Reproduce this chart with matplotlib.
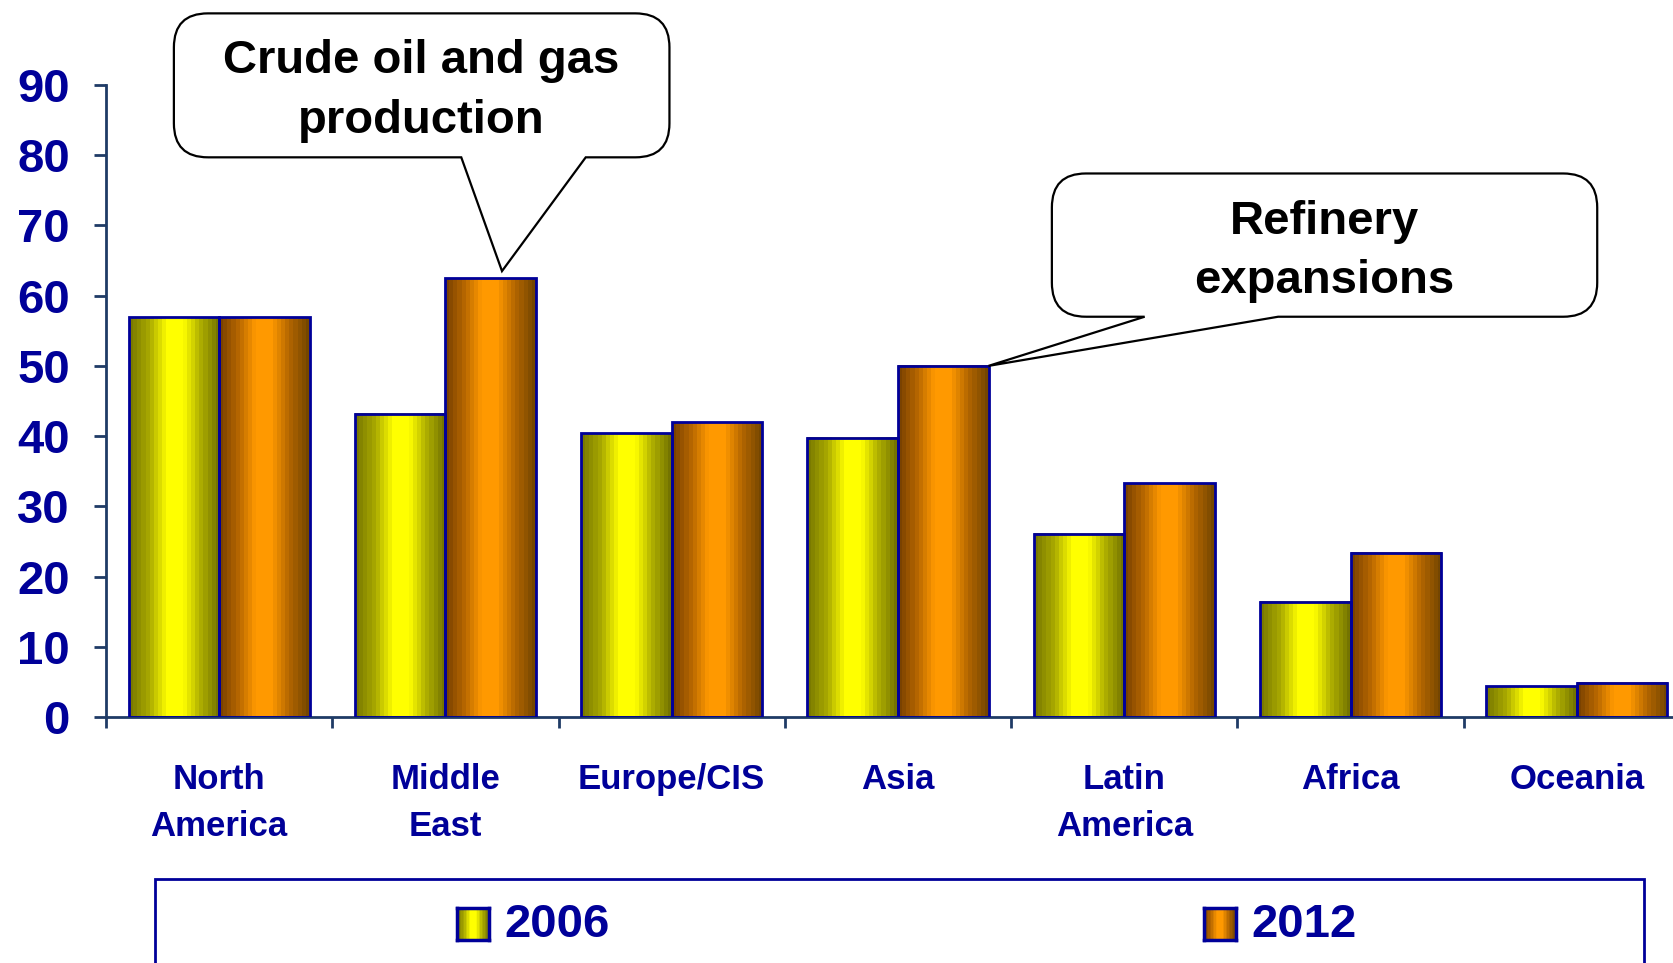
import numpy as np
import matplotlib
matplotlib.use("Agg")
import matplotlib.pyplot as plt
from matplotlib.colors import LinearSegmentedColormap
from matplotlib.path import Path
from matplotlib.patches import PathPatch, Rectangle

regions = ["North\nAmerica", "Middle\nEast", "Europe/CIS", "Asia", "Latin\nAmerica", "Africa", "Oceania"]
v2006 = [56.9, 43.2, 40.4, 39.8, 26.1, 16.4, 4.4]
v2012 = [56.9, 62.5, 42.0, 50.0, 33.3, 23.4, 4.9]
years = ["2006", "2012"]

navy = "#000099"
axcol = "#1f3b66"
plt.rcParams['font.family'] = ['Liberation Sans', 'DejaVu Sans']
plt.rcParams['font.weight'] = 'bold'

cm_y = LinearSegmentedColormap.from_list("y", [(0, "#7a7a00"), (0.2, "#a8a800"), (0.42, "#ffff00"),
                                               (0.6, "#ffff00"), (0.8, "#b0b000"), (1, "#747400")])
cm_o = LinearSegmentedColormap.from_list("o", [(0, "#7a4200"), (0.2, "#b86800"), (0.4, "#ff9900"),
                                               (0.58, "#ff9900"), (0.8, "#b06400"), (1, "#744600")])
grad = np.linspace(0, 1, 22).reshape(1, -1)

fig = plt.figure(figsize=(16.74, 9.63), dpi=100)
ax = fig.add_axes([106/1674, 1-717/963, 1584/1674, 632/963])

x = np.arange(len(regions))
w = 0.4
b1 = ax.bar(x - w/2, v2006, w, facecolor="none", edgecolor=navy, lw=2, zorder=3)
b2 = ax.bar(x + w/2, v2012, w, facecolor="none", edgecolor=navy, lw=2, zorder=3)
for bars, cm in ((b1, cm_y), (b2, cm_o)):
    for p in bars:
        x0, y0 = p.get_x(), p.get_y()
        ax.imshow(grad, cmap=cm, extent=[x0, x0 + p.get_width(), y0, y0 + p.get_height()],
                  aspect="auto", interpolation="nearest", zorder=2)

ax.set_xlim(-0.5, 6.5)
ax.set_ylim(0, 90)
ax.set_yticks(range(0, 91, 10))
ax.set_xticks(x)
ax.set_xticklabels(regions, linespacing=1.55)
ax.set_xticks(np.arange(-0.5, 7, 1), minor=True)
for s in ("top", "right"):
    ax.spines[s].set_visible(False)
ax.spines["left"].set_color(axcol)
ax.spines["bottom"].set_color(axcol)
ax.spines["left"].set_linewidth(2)
ax.spines["bottom"].set_linewidth(2)
ax.tick_params(axis="y", direction="out", length=9, width=2, color=axcol, pad=17,
               labelsize=34, labelcolor=navy)
ax.tick_params(axis="x", which="major", length=0, pad=33, labelsize=25, labelcolor=navy)
ax.tick_params(axis="x", which="minor", length=8, width=2, color=axcol)


def bubble(box, tail_a, tail_b, tip, text, dy):
    xa, xb, ya, yb = box
    rx = 34 / (ax.bbox.width / 7)
    ry = 34 / (ax.bbox.height / 90)
    verts = [(xa + rx, ya), (tail_a, ya), tip, (tail_b, ya), (xb - rx, ya),
             (xb, ya), (xb, ya + ry), (xb, yb - ry), (xb, yb), (xb - rx, yb),
             (xa + rx, yb), (xa, yb), (xa, yb - ry), (xa, ya + ry), (xa, ya), (xa + rx, ya)]
    codes = [Path.MOVETO, Path.LINETO, Path.LINETO, Path.LINETO, Path.LINETO,
             Path.CURVE3, Path.CURVE3, Path.LINETO, Path.CURVE3, Path.CURVE3,
             Path.LINETO, Path.CURVE3, Path.CURVE3, Path.LINETO, Path.CURVE3, Path.CURVE3]
    ax.add_patch(PathPatch(Path(verts, codes), facecolor="white", edgecolor="black",
                           lw=1.6, clip_on=False, zorder=5))
    ax.text((xa + xb) / 2, (ya + yb) / 2 - dy, text, ha="center", va="center", fontsize=34,
            color="black", linespacing=1.45, zorder=6)


bubble((-0.2, 1.99, 79.7, 100.2), 1.07, 1.62, (x[1] + w/2 + 0.05, v2012[1] + 1),
       "Crude oil and gas\nproduction", 0.8)
bubble((3.68, 6.09, 57.0, 77.4), 4.09, 4.68, (x[3] + w, v2012[3]),
       "Refinery\nexpansions", 0.9)

# legend
fig.patches.append(Rectangle((155/1674, -0.01), (1644-155)/1674, 0.01 + 1-879/963,
                             transform=fig.transFigure, facecolor="none", edgecolor=navy, lw=2))
for xs, xt, cm, lab in ((457, 504, cm_y, years[0]), (1204, 1251, cm_o, years[1])):
    sw = fig.add_axes([xs/1674, 1-940/963, 32/1674, 32/963])
    sw.imshow(grad, cmap=cm, aspect="auto", interpolation="nearest")
    sw.set_xticks([])
    sw.set_yticks([])
    for s in sw.spines.values():
        s.set_color(navy)
        s.set_linewidth(2.5)
    fig.text(xt/1674, 1-925/963, lab, ha="left", va="center", fontsize=34, color=navy)

fig.savefig("out.png", dpi=100)
